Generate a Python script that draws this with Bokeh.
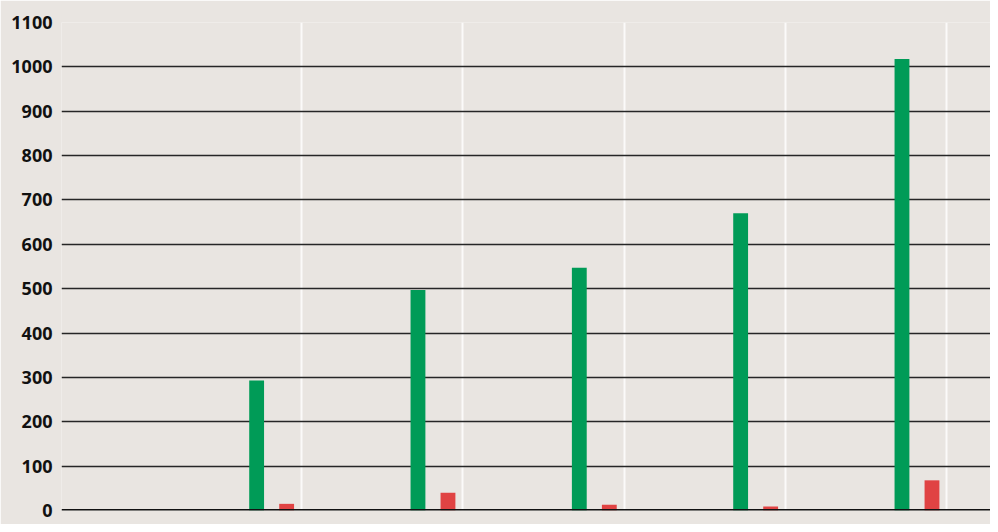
from bokeh.plotting import figure
from bokeh.models import Range1d, FixedTicker, Span, ColumnDataSource
from bokeh.transform import dodge
from bokeh.embed import file_html
from bokeh.resources import INLINE

# data
periods = [1, 2, 3, 4, 5]
series_green = [293, 497, 547, 670, 1018]
series_red = [15, 40, 13, 9, 68]
y_ticks = [0, 100, 200, 300, 400, 500, 600, 700, 800, 900, 1000, 1100]

BG = "#e9e5e1"
GREEN = "#009b57"
RED = "#e04343"

src = ColumnDataSource(dict(x=periods, g=series_green, r=series_red))

p = figure(width=990, height=524, output_backend="svg", toolbar_location=None,
           x_range=Range1d(-0.4875, 5.2707), y_range=Range1d(0, 1100),
           min_border_left=61, min_border_right=0, min_border_top=22, min_border_bottom=14)
p.background_fill_color = BG
p.border_fill_color = BG
p.outline_line_color = None

p.vbar(x=dodge("x", -0.278, range=p.x_range), top="g", width=0.092, source=src,
       fill_color=GREEN, line_color=None)
p.vbar(x=dodge("x", -0.092, range=p.x_range), top="r", width=0.092, source=src,
       fill_color=RED, line_color=None)

p.xaxis.visible = False
p.xgrid.ticker = FixedTicker(ticks=periods)
p.xgrid.grid_line_color = "white"
p.xgrid.grid_line_width = 2
p.xgrid.grid_line_alpha = 0.8

p.yaxis.ticker = FixedTicker(ticks=y_ticks)
p.yaxis.axis_line_color = None
p.yaxis.major_tick_line_color = None
p.yaxis.minor_tick_line_color = None
p.yaxis.major_tick_out = 0
p.yaxis.major_label_standoff = 9
p.yaxis.major_label_text_font = "Noto Sans"
p.yaxis.major_label_text_font_style = "bold"
p.yaxis.major_label_text_font_size = "18px"
p.yaxis.major_label_text_color = "#111111"

p.ygrid.ticker = FixedTicker(ticks=y_ticks[1:])
p.ygrid.grid_line_color = "#262626"
p.ygrid.grid_line_width = 1.3

p.add_layout(Span(location=0, dimension="width", line_color="#111111", line_width=3))

open("out.html", "w").write(file_html(p, INLINE))
